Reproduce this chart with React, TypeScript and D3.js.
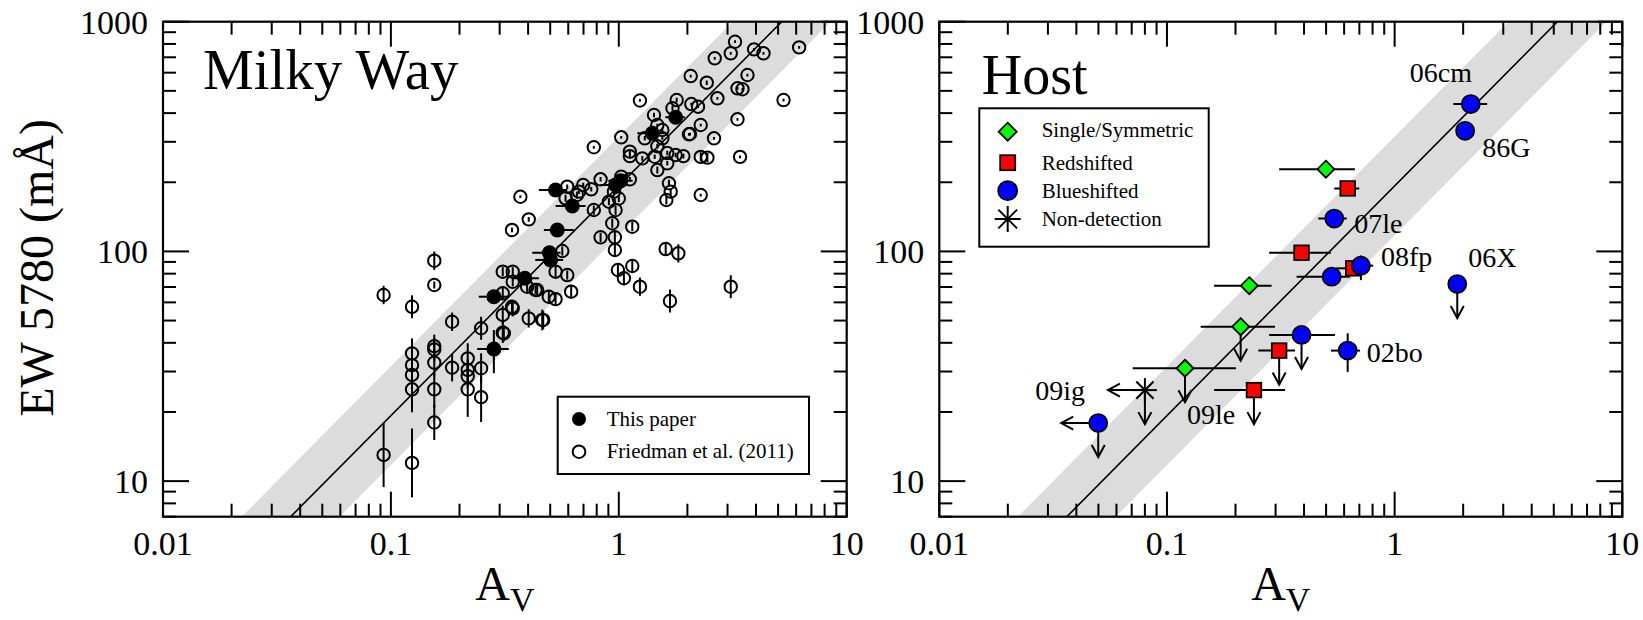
import React from 'react';
import * as d3 from 'd3';

const W = 1643;
const H = 620;
const X_DOMAIN: [number, number] = [0.01, 10];
const Y_DOMAIN: [number, number] = [7, 1000];
const xTickLabels = ['0.01', '0.1', '1', '10'];
const xTickValues = [0.01, 0.1, 1, 10];
const yTickLabels = ['10', '100', '1000'];
const yTickValues = [10, 100, 1000];

// relation log EW = a + b log Av, band half-width in dex
const FIT_A = 2.285;
const FIT_B = 1.0;
const BAND = 0.215;

// This paper: [Av, EW, AvLo, AvHi, EWLo, EWHi]
const thisPaper: number[][] = [
  [0.283, 63.5, 0.243, 0.329, 60, 67],
  [0.283, 37.6, 0.239, 0.329, 29.5, 45.5],
  [0.387, 76.4, 0.34, 0.446, 73, 80],
  [0.496, 98.6, 0.417, 0.555, 94, 103],
  [0.502, 91.8, 0.43, 0.57, 86, 97],
  [0.537, 124, 0.469, 0.635, 119, 129],
  [0.528, 185, 0.446, 0.594, 178, 192],
  [0.625, 157.6, 0.528, 0.715, 147, 169],
  [0.968, 194.5, 0.83, 1.1, 186, 203],
  [1.02, 203, 0.9, 1.15, 195, 211],
  [1.403, 326.6, 1.206, 1.605, 313, 340],
  [1.776, 383.6, 1.6, 1.95, 365, 402],
];

// Friedman et al. (2011): [Av, EW, EW error (dex)]
const friedman: number[][] = [
  [0.155, 91.1, 0.04], [0.155, 71.4, 0.015], [0.0929, 64.6, 0.04], [0.1238, 57.4, 0.05],
  [0.1856, 49.4, 0.04], [0.2488, 46.3, 0.05], [0.1238, 36.0, 0.065], [0.1238, 32.0, 0.05],
  [0.1238, 29.0, 0.05], [0.1238, 25.1, 0.1], [0.155, 38.7, 0.05], [0.155, 37.4, 0.05],
  [0.155, 32.8, 0.06], [0.155, 25.1, 0.08], [0.155, 18.0, 0.076], [0.0929, 13.0, 0.14],
  [0.1238, 12.0, 0.15], [0.1856, 31.2, 0.06], [0.2173, 34.2, 0.066], [0.2173, 30.5, 0.05],
  [0.2173, 28.6, 0.05], [0.2173, 25.1, 0.12], [0.2488, 31.0, 0.065], [0.2488, 23.2, 0.108],
  [0.3096, 81.6, 0.02], [0.3425, 81.6, 0.02], [0.3425, 73.8, 0.02], [0.3096, 65.7, 0.03],
  [0.3425, 56.5, 0.035], [0.3096, 52.9, 0.04], [0.3096, 44.3, 0.045], [0.4026, 51.1, 0.04],
  [0.4612, 50.3, 0.045], [0.396, 70.2, 0.03], [0.4384, 67.9, 0.03], [0.493, 63.5, 0.03],
  [0.528, 62.0, 0.03], [0.528, 81.6, 0.03],
  [0.777, 284, 0.006], [1.025, 313.8, 0.006], [1.118, 271.8, 0.01], [1.118, 260, 0.01],
  [1.268, 254, 0.01], [1.437, 258.4, 0.01], [1.476, 226, 0.015], [1.632, 241.8, 0.01],
  [1.776, 262.9, 0.01], [1.92, 260, 0.01], [1.66, 198, 0.015], [1.689, 182, 0.015],
  [1.617, 167.4, 0.02], [2.288, 258, 0.02], [2.448, 256, 0.02], [3.404, 258, 0.006],
  [2.288, 176, 0.006], [2.617, 310.7, 0.006], [2.053, 324.4, 0.006], [2.288, 355, 0.006],
  [1.025, 211.5, 0.01], [1.118, 206, 0.01], [0.832, 206, 0.01], [0.698, 194.6, 0.01],
  [0.757, 186.4, 0.01], [0.594, 191.3, 0.01], [0.668, 182, 0.01], [0.584, 170.3, 0.015],
  [0.655, 176, 0.015], [0.952, 182, 0.01], [0.905, 164.6, 0.015], [1.0, 170, 0.015],
  [0.777, 151.4, 0.02], [0.968, 151.4, 0.02], [0.936, 132.6, 0.02], [1.146, 128.1, 0.02],
  [0.832, 115.2, 0.02], [0.961, 115.2, 0.025], [0.961, 101.4, 0.03], [1.606, 102.4, 0.025],
  [1.825, 98.1, 0.04], [1.146, 86.4, 0.025], [0.991, 83.0, 0.03], [1.053, 76.4, 0.03],
  [1.238, 70.2, 0.04], [1.677, 60.8, 0.05], [3.099, 70.2, 0.05], [0.594, 78.9, 0.02],
  [0.618, 66.8, 0.03], [0.466, 50.3, 0.04], [0.431, 67.9, 0.02], [0.34, 57.4, 0.03],
  [0.313, 44.0, 0.035], [0.37, 173, 0.006], [0.4026, 137.9, 0.01], [0.34, 124, 0.01],
  [0.565, 100.4, 0.02], [1.476, 355, 0.006], [1.553, 310.7, 0.006], [1.476, 287, 0.01],
  [1.632, 268, 0.01],
  [3.236, 818, 0.006], [3.099, 728.6, 0.006], [3.923, 758, 0.006], [4.314, 728.6, 0.006],
  [6.184, 773, 0.006], [2.636, 693, 0.006], [2.068, 580, 0.006], [2.432, 542.6, 0.01],
  [3.669, 586, 0.006], [3.317, 512.9, 0.006], [3.488, 508, 0.006], [2.708, 464, 0.006],
  [5.282, 456, 0.006], [1.238, 454, 0.006], [1.795, 456, 0.01], [2.08, 438, 0.006],
  [2.226, 426.6, 0.006], [1.427, 392.6, 0.01], [1.72, 420, 0.01], [3.317, 376, 0.006],
  [2.032, 323.4, 0.006], [1.553, 337.7, 0.006], [1.3, 310.7, 0.01],
];

// Host points: {x, y, xlo, xhi, ylo, yhi, ul (upper limit), ll (Av upper limit)}
type HP = { x: number; y: number; xlo?: number; xhi?: number; ylo?: number; yhi?: number; ul?: boolean; ll?: boolean };
const hostSingle: HP[] = [
  { x: 0.499, y: 228, xlo: 0.311, xhi: 0.669 },
  { x: 0.23, y: 70.9, xlo: 0.161, xhi: 0.288 },
  { x: 0.2107, y: 47.0, xlo: 0.1406, xhi: 0.298, ul: true },
  { x: 0.12, y: 31.0, xlo: 0.0707, xhi: 0.2009, ul: true },
];
const hostRed: HP[] = [
  { x: 0.622, y: 188, xlo: 0.543, xhi: 0.699 },
  { x: 0.39, y: 98.7, xlo: 0.281, xhi: 0.525, ylo: 94, yhi: 103 },
  { x: 0.658, y: 84.4, xlo: 0.552, xhi: 0.75 },
  { x: 0.311, y: 37.0, xlo: 0.252, xhi: 0.365, ul: true },
  { x: 0.241, y: 24.9, xlo: 0.161, xhi: 0.33, ul: true },
];
const hostBlue: HP[] = [
  { x: 2.16, y: 438, xlo: 1.81, xhi: 2.55 },
  { x: 2.04, y: 335 },
  { x: 0.543, y: 139, xlo: 0.462, xhi: 0.616 },
  { x: 0.529, y: 77.6, xlo: 0.371, xhi: 0.637 },
  { x: 0.711, y: 86.7, xlo: 0.636, xhi: 0.805, ylo: 75, yhi: 96 },
  { x: 1.884, y: 72.1, ul: true },
  { x: 0.39, y: 43.3, xlo: 0.281, xhi: 0.547, ul: true },
  { x: 0.622, y: 37.0, xlo: 0.525, xhi: 0.704, ylo: 29.9, yhi: 44 },
  { x: 0.0499, y: 17.9, ul: true, ll: true },
];
const hostNone: HP[] = [{ x: 0.08, y: 24.9, ul: true, ll: true }];

// SN labels: name, point (Av, EW), text offset in px
const snLabels: { name: string; x: number; y: number; dx: number; dy: number }[] = [
  { name: '06cm', x: 2.16, y: 438, dx: -61, dy: -22 },
  { name: '86G', x: 2.04, y: 335, dx: 17, dy: 26 },
  { name: '07le', x: 0.543, y: 139, dx: 20, dy: 14 },
  { name: '08fp', x: 0.711, y: 86.7, dx: 20, dy: 0 },
  { name: '06X', x: 1.884, y: 72.1, dx: 11, dy: -17 },
  { name: '02bo', x: 0.622, y: 37.0, dx: 19, dy: 11 },
  { name: '09le', x: 0.241, y: 24.9, dx: -67, dy: 34 },
  { name: '09ig', x: 0.0499, y: 17.9, dx: -63, dy: -23 },
];

const FONT = '"Liberation Serif", "Times New Roman", serif';
const GREEN = '#00ff00';
const RED = '#ff0000';
const BLUE = '#0000ff';

function logTicks(lo: number, hi: number) {
  const out: { v: number; major: boolean }[] = [];
  for (let d = -3; d <= 3; d++) {
    for (let m = 1; m < 10; m++) {
      const v = m * Math.pow(10, d);
      if (v >= lo * 0.999 && v <= hi * 1.001) out.push({ v, major: m === 1 });
    }
  }
  return out;
}

function Axes({ x, y }: { x: d3.ScaleLogarithmic<number, number>; y: d3.ScaleLogarithmic<number, number> }) {
  const [x0, x1] = x.range();
  const [yb, yt] = y.range();
  const els: React.ReactNode[] = [];
  logTicks(X_DOMAIN[0], X_DOMAIN[1]).forEach((t, i) => {
    const px = x(t.v);
    const len = t.major ? 25 : 13;
    els.push(<line key={'xb' + i} x1={px} x2={px} y1={yb} y2={yb - len} />);
    els.push(<line key={'xt' + i} x1={px} x2={px} y1={yt} y2={yt + len} />);
  });
  logTicks(Y_DOMAIN[0], Y_DOMAIN[1]).forEach((t, i) => {
    const py = y(t.v);
    const len = t.major ? 26 : 13;
    els.push(<line key={'yl' + i} x1={x0} x2={x0 + len} y1={py} y2={py} />);
    els.push(<line key={'yr' + i} x1={x1} x2={x1 - len} y1={py} y2={py} />);
  });
  return (
    <g>
      <g stroke="#000" strokeWidth={2}>{els}</g>
      <rect x={x0} y={yt} width={x1 - x0} height={yb - yt} fill="none" stroke="#000" strokeWidth={2.2} />
      <g fontFamily={FONT} fontSize={34} fill="#000">
        {xTickValues.map((v, i) => (
          <text key={'xl' + i} x={x(v)} y={555} textAnchor="middle">{xTickLabels[i]}</text>
        ))}
        {yTickValues.map((v, i) => (
          <text key={'yl' + i} x={x0 - 15} y={y(v) + 12} textAnchor="end">{yTickLabels[i]}</text>
        ))}
      </g>
      <text x={(x0 + x1) / 2} y={600} textAnchor="middle" fontFamily={FONT} fontSize={48}>
        A<tspan fontSize={34} dy={11}>V</tspan>
      </text>
    </g>
  );
}

function Band({ x, y, id }: { x: d3.ScaleLogarithmic<number, number>; y: d3.ScaleLogarithmic<number, number>; id: string }) {
  const xs = [0.003, 30];
  const area = d3
    .area<number>()
    .x((d) => x(d))
    .y0((d) => y(Math.pow(10, FIT_A + FIT_B * Math.log10(d) - BAND)))
    .y1((d) => y(Math.pow(10, FIT_A + FIT_B * Math.log10(d) + BAND)));
  const line = d3
    .line<number>()
    .x((d) => x(d))
    .y((d) => y(Math.pow(10, FIT_A + FIT_B * Math.log10(d))));
  return (
    <g clipPath={`url(#${id})`}>
      <path d={area(xs) || ''} fill="#dcdcdc" />
      <path d={line(xs) || ''} fill="none" stroke="#000" strokeWidth={1.6} />
    </g>
  );
}

function Arrows({ px, py, ul, ll }: { px: number; py: number; ul?: boolean; ll?: boolean }) {
  return (
    <g stroke="#000" strokeWidth={2} fill="none">
      {ul && (
        <>
          <line x1={px} x2={px} y1={py} y2={py + 34} />
          <polyline points={`${px - 6.5},${py + 22} ${px},${py + 34} ${px + 6.5},${py + 22}`} />
        </>
      )}
      {ll && (
        <>
          <line x1={px} x2={px - 37} y1={py} y2={py} />
          <polyline points={`${px - 25},${py - 6.5} ${px - 37},${py} ${px - 25},${py + 6.5}`} />
        </>
      )}
    </g>
  );
}

function ErrBars({ d, x, y }: { d: HP; x: any; y: any }) {
  const px = x(d.x);
  const py = y(d.y);
  return (
    <g stroke="#000" strokeWidth={2}>
      {d.xlo !== undefined && <line x1={x(d.xlo)} x2={x(d.xhi)} y1={py} y2={py} />}
      {d.ylo !== undefined && <line x1={px} x2={px} y1={y(d.ylo)} y2={y(d.yhi)} />}
    </g>
  );
}

function Diamond({ cx, cy, r }: { cx: number; cy: number; r: number }) {
  return <polygon points={`${cx},${cy - r} ${cx + r},${cy} ${cx},${cy + r} ${cx - r},${cy}`} fill={GREEN} stroke="#000" strokeWidth={1.8} />;
}
function Square({ cx, cy, r }: { cx: number; cy: number; r: number }) {
  return <rect x={cx - r} y={cy - r} width={2 * r} height={2 * r} fill={RED} stroke="#000" strokeWidth={1.8} />;
}
function Dot({ cx, cy, r }: { cx: number; cy: number; r: number }) {
  return <circle cx={cx} cy={cy} r={r} fill={BLUE} stroke="#000" strokeWidth={1.8} />;
}
function Star({ cx, cy, r }: { cx: number; cy: number; r: number }) {
  const k = r * 0.72;
  return (
    <g stroke="#000" strokeWidth={2}>
      <line x1={cx - r} x2={cx + r} y1={cy} y2={cy} />
      <line x1={cx} x2={cx} y1={cy - r} y2={cy + r} />
      <line x1={cx - k} x2={cx + k} y1={cy - k} y2={cy + k} />
      <line x1={cx - k} x2={cx + k} y1={cy + k} y2={cy - k} />
    </g>
  );
}

export default function App() {
  const xL = d3.scaleLog().domain(X_DOMAIN).range([163, 846.7]);
  const xR = d3.scaleLog().domain(X_DOMAIN).range([939.3, 1622.3]);
  const y = d3.scaleLog().domain(Y_DOMAIN).range([516.7, 21.7]);

  const hostAll: { d: HP; kind: string }[] = [
    ...hostSingle.map((d) => ({ d, kind: 's' })),
    ...hostRed.map((d) => ({ d, kind: 'r' })),
    ...hostBlue.map((d) => ({ d, kind: 'b' })),
    ...hostNone.map((d) => ({ d, kind: 'n' })),
  ];

  return (
    <svg width={W} height={H} style={{ position: 'absolute', left: 0, top: 0, background: '#fff' }}>
      <defs>
        <clipPath id="clipL">
          <rect x={163} y={21.7} width={846.7 - 163} height={516.7 - 21.7} />
        </clipPath>
        <clipPath id="clipR">
          <rect x={939.3} y={21.7} width={1622.3 - 939.3} height={516.7 - 21.7} />
        </clipPath>
      </defs>
      <rect x={0} y={0} width={W} height={H} fill="#fff" />

      {/* Left panel */}
      <Band x={xL} y={y} id="clipL" />
      <g clipPath="url(#clipL)">
        {friedman.map((d, i) => {
          const px = xL(d[0]);
          const py = y(d[1]);
          const e = d[2];
          return (
            <g key={'f' + i}>
              <line x1={px} x2={px} y1={y(d[1] * Math.pow(10, -e))} y2={y(d[1] * Math.pow(10, e))} stroke="#000" strokeWidth={2} />
              <circle cx={px} cy={py} r={6.2} fill="none" stroke="#000" strokeWidth={2} />
            </g>
          );
        })}
        {thisPaper.map((d, i) => {
          const px = xL(d[0]);
          const py = y(d[1]);
          return (
            <g key={'t' + i}>
              <line x1={xL(d[2])} x2={xL(d[3])} y1={py} y2={py} stroke="#000" strokeWidth={2} />
              <line x1={px} x2={px} y1={y(d[4])} y2={y(d[5])} stroke="#000" strokeWidth={2} />
              <circle cx={px} cy={py} r={7.5} fill="#000" />
            </g>
          );
        })}
      </g>
      <Axes x={xL} y={y} />
      <text x={203} y={89} fontFamily={FONT} fontSize={57}>Milky Way</text>
      <text transform="translate(53,268) rotate(-90)" textAnchor="middle" fontFamily={FONT} fontSize={48}>
        EW 5780 (mÅ)
      </text>
      <g>
        <rect x={557.7} y={396.7} width={809 - 557.7} height={474 - 396.7} fill="#fff" stroke="#000" strokeWidth={2} />
        <circle cx={579} cy={419} r={7} fill="#000" />
        <circle cx={579} cy={451.7} r={6.3} fill="none" stroke="#000" strokeWidth={2} />
        <text x={606.7} y={425.5} fontFamily={FONT} fontSize={21}>This paper</text>
        <text x={606.7} y={457.5} fontFamily={FONT} fontSize={21}>Friedman et al. (2011)</text>
      </g>

      {/* Right panel */}
      <Band x={xR} y={y} id="clipR" />
      <g clipPath="url(#clipR)">
        {hostAll.map(({ d }, i) => (
          <ErrBars key={'e' + i} d={d} x={xR} y={y} />
        ))}
        {hostAll.map(({ d }, i) => (
          <Arrows key={'a' + i} px={xR(d.x)} py={y(d.y)} ul={d.ul} ll={d.ll} />
        ))}
        {hostAll.map(({ d, kind }, i) => {
          const cx = xR(d.x);
          const cy = y(d.y);
          if (kind === 's') return <Diamond key={'m' + i} cx={cx} cy={cy} r={8.5} />;
          if (kind === 'r') return <Square key={'m' + i} cx={cx} cy={cy} r={7.3} />;
          if (kind === 'b') return <Dot key={'m' + i} cx={cx} cy={cy} r={9} />;
          return <Star key={'m' + i} cx={cx} cy={cy} r={12} />;
        })}
      </g>
      <g fontFamily={FONT} fontSize={28}>
        {snLabels.map((l, i) => (
          <text key={'l' + i} x={xR(l.x) + l.dx} y={y(l.y) + l.dy}>{l.name}</text>
        ))}
      </g>
      <Axes x={xR} y={y} />
      <text x={981.7} y={94} fontFamily={FONT} fontSize={56}>Host</text>
      <g>
        <rect x={979.3} y={108.3} width={1208.7 - 979.3} height={246.7 - 108.3} fill="#fff" stroke="#000" strokeWidth={2} />
        <Diamond cx={1007.7} cy={131.7} r={9} />
        <Square cx={1007.7} cy={162.7} r={7.5} />
        <Dot cx={1007.7} cy={190.7} r={9.5} />
        <Star cx={1007.7} cy={219} r={13} />
        <g fontFamily={FONT} fontSize={21}>
          <text x={1041.7} y={136.7}>Single/Symmetric</text>
          <text x={1041.7} y={170}>Redshifted</text>
          <text x={1041.7} y={198.3}>Blueshifted</text>
          <text x={1041.7} y={226}>Non-detection</text>
        </g>
      </g>
    </svg>
  );
}
